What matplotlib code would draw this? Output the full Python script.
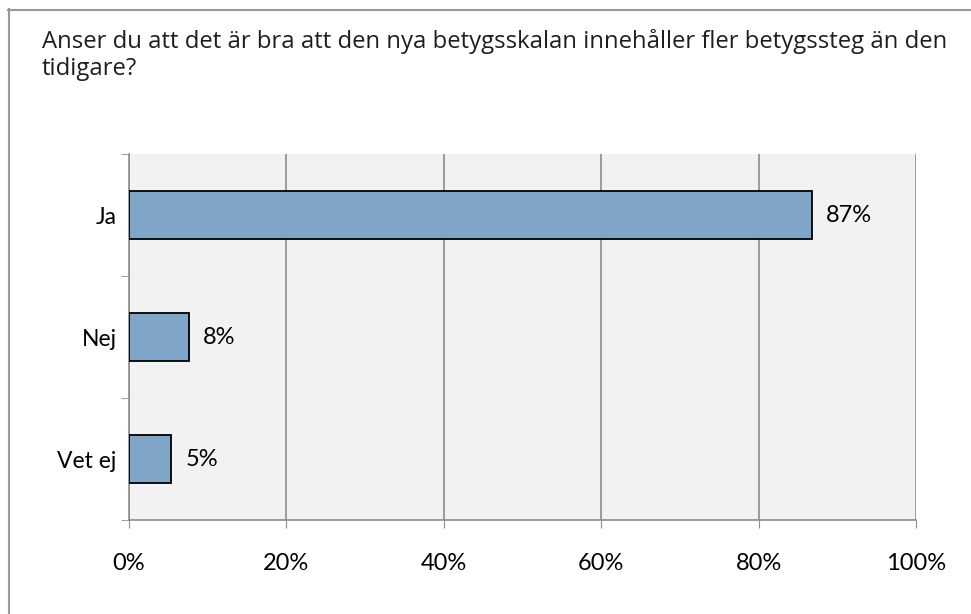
import matplotlib.pyplot as plt
from matplotlib.lines import Line2D
from matplotlib.ticker import FixedLocator

# Data
categories = ['Ja', 'Nej', 'Vet ej']
values = [86.8, 7.6, 5.4]
xticks = [0, 20, 40, 60, 80, 100]
title = 'Anser du att det är bra att den nya betygsskalan innehåller fler betygssteg än den\ntidigare?'

fig = plt.figure(figsize=(9.71, 6.14), dpi=100)
ax = fig.add_axes([129 / 971, 1 - 520 / 614, 787 / 971, 366 / 614])

grid_col = '#8c8c8c'
ax.set_facecolor('#f2f2f2')

pos = list(range(len(categories)))
ax.barh(pos, values, height=0.4, color='#7fa5c8', edgecolor='black', linewidth=1.3, zorder=3)

for p, v in zip(pos, values):
    ax.text(v + 1.8, p, f'{v:.0f}%', va='center', ha='left', fontsize=17,
            family='Lato', color='black', zorder=4)

ax.set_xlim(0, 100)
ax.set_ylim(len(categories) - 0.5, -0.5)

ax.set_xticks(xticks)
ax.set_xticklabels([f'{t}%' for t in xticks], fontsize=17, family='Lato')
ax.tick_params(axis='x', length=6, color=grid_col, pad=18, direction='out')

ax.set_yticks(pos)
ax.set_yticklabels(categories, fontsize=16.5, family='Lato')
ax.tick_params(axis='y', which='major', length=0, pad=9)
ax.yaxis.set_minor_locator(FixedLocator([p - 0.5 for p in pos] + [pos[-1] + 0.5]))
ax.tick_params(axis='y', which='minor', length=6, color=grid_col, direction='out')

ax.grid(axis='x', color=grid_col, linewidth=1.2, zorder=1)
ax.set_axisbelow(True)

for s in ['top', 'right']:
    ax.spines[s].set_visible(False)
for s in ['left', 'bottom']:
    ax.spines[s].set_color(grid_col)
    ax.spines[s].set_linewidth(1.2)

fig.text(42 / 971, 1 - 29 / 614, title, ha='left', va='top', fontsize=17.2,
         family='Open Sans', color='#1e1e1e', linespacing=1.18)

# outer chart border (left and top edges visible)
fig.add_artist(Line2D([8.5 / 971, 8.5 / 971], [1 - 9 / 614, 0], transform=fig.transFigure,
                      color='#999999', linewidth=1.5))
fig.add_artist(Line2D([8 / 971, 1], [1 - 9.5 / 614, 1 - 9.5 / 614], transform=fig.transFigure,
                      color='#999999', linewidth=1.5))

fig.savefig('out.png', dpi=100)
